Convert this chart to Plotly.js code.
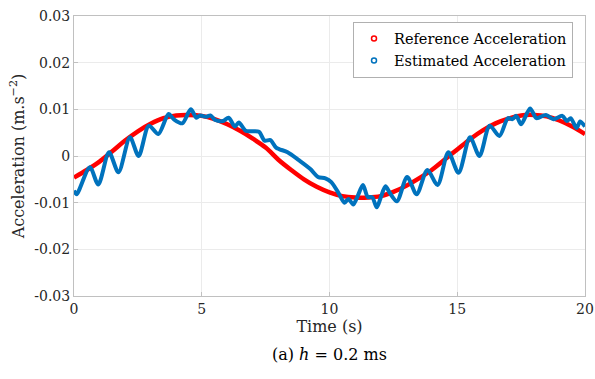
<!DOCTYPE html>
<html>
<head>
<meta charset="utf-8">
<script src="https://cdn.plot.ly/plotly-3.0.1.min.js"></script>
<style>html,body{margin:0;padding:0;background:#fff}#chart{width:595px;height:379px}</style>
</head>
<body>
<div id="chart"></div>
<script>
// Reference acceleration
var refTime = [0, 0.5, 1, 1.5, 2, 2.5, 3, 3.5, 4, 4.5, 5, 5.5, 6, 6.5, 7, 7.5, 8, 8.5, 9, 9.5, 10, 10.5, 11, 11.5, 12, 12.5, 13, 13.5, 14, 14.5, 15, 15.5, 16, 16.5, 17, 17.5, 18, 18.5, 19, 19.5, 20];
var refAcc = [-0.0046, -0.0030, -0.0012, 0.0010, 0.0033, 0.0053, 0.0069, 0.0081, 0.0087, 0.0088, 0.0086, 0.0079, 0.0068, 0.0054, 0.0037, 0.0018, -0.0008, -0.0030, -0.0050, -0.0066, -0.0078, -0.0086, -0.0089, -0.0089, -0.0086, -0.0077, -0.0064, -0.0048, -0.0030, -0.0008, 0.0014, 0.0036, 0.0055, 0.0070, 0.0080, 0.0087, 0.0088, 0.0085, 0.0076, 0.0063, 0.0047];

// Estimated acceleration
var estTime = [0, 0.1, 0.62, 0.95, 1.37, 1.74, 2.19, 2.53, 2.93, 3.30, 3.70, 3.90, 4.24, 4.57, 4.79, 4.94, 5.16, 5.34, 5.53, 5.83, 6.05, 6.30, 6.45, 6.72, 6.94, 7.24, 7.46, 7.69, 7.91, 8.36, 8.80, 9.25, 9.55, 9.84, 10.07, 10.36, 10.59, 10.74, 10.93, 11.11, 11.31, 11.50, 11.67, 11.85, 12.00, 12.19, 12.37, 12.64, 13.04, 13.41, 13.83, 14.23, 14.65, 15.05, 15.50, 15.87, 16.27, 16.65, 16.98, 17.16, 17.31, 17.50, 17.85, 18.10, 18.47, 18.77, 19.11, 19.29, 19.44, 19.67, 19.81, 20];
var estAcc = [-0.0074, -0.0082, -0.0024, -0.0061, 0.0008, -0.0035, 0.0040, 0.0000, 0.0065, 0.0047, 0.0090, 0.0079, 0.0070, 0.0100, 0.0082, 0.0087, 0.0084, 0.0087, 0.0077, 0.0075, 0.0082, 0.0063, 0.0072, 0.0054, 0.0053, 0.0052, 0.0033, 0.0034, 0.0018, 0.0008, -0.0009, -0.0028, -0.0045, -0.0048, -0.0056, -0.0080, -0.0100, -0.0092, -0.0104, -0.0085, -0.0062, -0.0088, -0.0088, -0.0110, -0.0090, -0.0065, -0.0080, -0.0097, -0.0045, -0.0082, -0.0030, -0.0062, 0.0008, -0.0036, 0.0040, 0.0000, 0.0065, 0.0043, 0.0081, 0.0079, 0.0086, 0.0068, 0.0102, 0.0081, 0.0088, 0.0079, 0.0086, 0.0075, 0.0081, 0.0060, 0.0074, 0.0063];

var xTicks = [0, 5, 10, 15, 20];
var xTickText = ['0', '5', '10', '15', '20'];
var yTicks = [-0.03, -0.02, -0.01, 0, 0.01, 0.02, 0.03];
var yTickText = ['-0.03', '-0.02', '-0.01', '0', '0.01', '0.02', '0.03'];
var seriesNames = ['Reference Acceleration', 'Estimated Acceleration'];

var RED = '#FF0000', BLUE = '#0072BD';
var FONT = 'DejaVu Serif';

var traces = [
  {x: refTime, y: refAcc, mode: 'lines', line: {color: RED, width: 4.5, shape: 'spline', smoothing: 1}, showlegend: false, hoverinfo: 'none'},
  {x: estTime, y: estAcc, mode: 'lines', line: {color: BLUE, width: 4, shape: 'spline', smoothing: 0.8}, showlegend: false, hoverinfo: 'none'},
  {x: [null], y: [null], mode: 'markers', name: seriesNames[0], marker: {symbol: 'circle-open', size: 5, color: RED, line: {width: 1.5, color: RED}}},
  {x: [null], y: [null], mode: 'markers', name: seriesNames[1], marker: {symbol: 'circle-open', size: 5, color: BLUE, line: {width: 1.5, color: BLUE}}}
];

var axisCommon = {
  showgrid: true, gridcolor: '#ebebeb', gridwidth: 1,
  showline: true, linecolor: '#c0c0c0', linewidth: 1, mirror: true,
  ticks: 'inside', ticklen: 4, tickcolor: '#c0c0c0',
  zeroline: false,
  tickfont: {family: FONT, size: 14, color: '#262626'}
};

var layout = {
  width: 595, height: 379,
  margin: {l: 74, r: 10, t: 16, b: 83},
  paper_bgcolor: '#fff', plot_bgcolor: '#fff',
  font: {family: FONT, color: '#262626'},
  xaxis: Object.assign({}, axisCommon, {
    range: [0, 20], tickvals: xTicks, ticktext: xTickText,
    title: {text: 'Time (s)', font: {family: FONT, size: 16, color: '#262626'}, standoff: 3}
  }),
  yaxis: Object.assign({}, axisCommon, {
    range: [-0.03, 0.03], tickvals: yTicks, ticktext: yTickText,
    title: {text: 'Acceleration (m.s<sup>\u22122</sup>)', font: {family: FONT, size: 16, color: '#262626'}, standoff: 5}
  }),
  legend: {
    x: 0.546, y: 0.98, xanchor: 'left', yanchor: 'top',
    bgcolor: '#fff', bordercolor: '#b0b0b0', borderwidth: 1,
    font: {family: FONT, size: 14.5, color: '#000'},
    itemwidth: 30, tracegroupgap: 0
  },
  annotations: [{
    text: '(a) <i>h</i> = 0.2 ms', xref: 'paper', yref: 'paper', x: 0.5, y: -0.21,
    xanchor: 'center', yanchor: 'middle', showarrow: false,
    font: {family: FONT, size: 16, color: '#000'}
  }]
};

Plotly.newPlot('chart', traces, layout, {staticPlot: true, displayModeBar: false});
</script>
</body>
</html>
